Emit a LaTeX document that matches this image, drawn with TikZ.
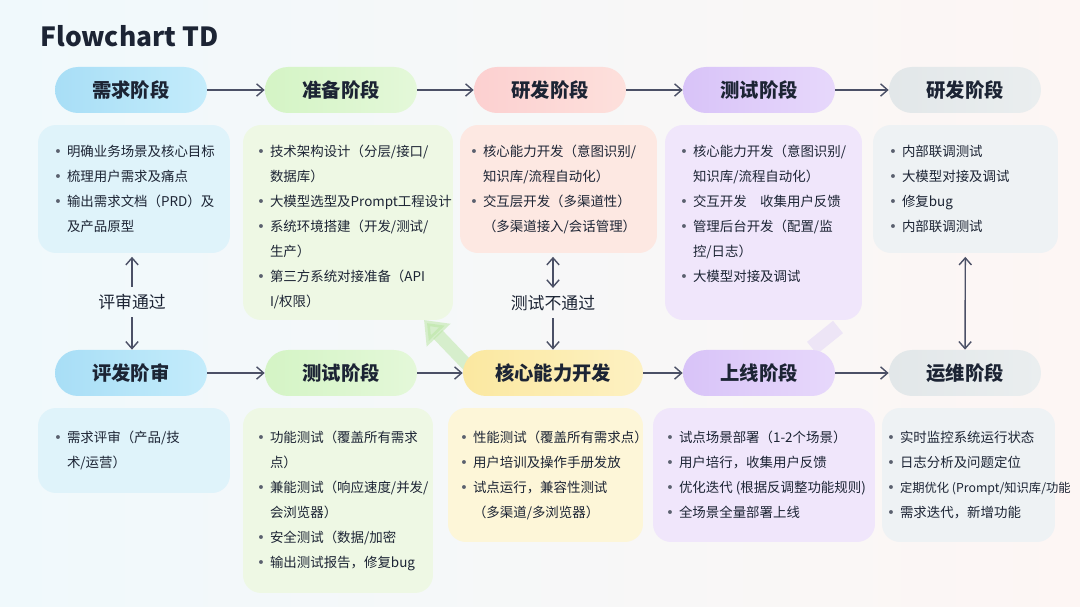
\documentclass[tikz,border=0pt]{standalone}
\usepackage{fontspec}
\setmainfont{Noto Sans CJK SC}
\newfontfamily\dotfont{DejaVu Sans}
\usetikzlibrary{arrows.meta,calc,positioning}
\definecolor{ink}{RGB}{28,36,52}
\definecolor{arrowgray}{RGB}{75,80,102}
\definecolor{dotgray}{RGB}{90,96,110}
\definecolor{bgLeft}{RGB}{240,249,252}
\definecolor{bgRight}{RGB}{253,246,244}
% stage pills
\definecolor{blueA}{RGB}{168,222,246}
\definecolor{blueB}{RGB}{196,236,251}
\definecolor{greenA}{RGB}{212,244,197}
\definecolor{greenB}{RGB}{228,248,217}
\definecolor{pinkA}{RGB}{252,208,208}
\definecolor{pinkB}{RGB}{253,224,220}
\definecolor{purpA}{RGB}{216,195,248}
\definecolor{purpB}{RGB}{231,216,251}
\definecolor{grayA}{RGB}{226,231,233}
\definecolor{grayB}{RGB}{234,238,239}
\definecolor{yellA}{RGB}{251,232,160}
\definecolor{yellB}{RGB}{253,241,194}
% panels
\definecolor{bluePanel}{RGB}{223,243,250}
\definecolor{greenPanel}{RGB}{238,248,228}
\definecolor{pinkPanel}{RGB}{253,232,226}
\definecolor{purpPanel}{RGB}{240,230,251}
\definecolor{grayPanel}{RGB}{238,242,244}
\definecolor{yellPanel}{RGB}{253,246,216}
\definecolor{leafgreen}{RGB}{184,230,160}
\definecolor{lilac}{RGB}{214,196,246}
\newcommand\bul{\makebox[7.4pt][l]{\dotfont\color{dotgray}•}}
\newcommand\cont{\hspace*{7.4pt}}
\tikzset{
  stage/.style={rounded corners=0.46cm,minimum width=3.04cm,minimum height=0.92cm,
    inner sep=0pt,text=ink,font=\bfseries\fontsize{11}{13}\selectfont},
  panel/.style={rounded corners=0.36cm,inner sep=0pt},
  items/.style={anchor=north west,inner sep=0pt,align=left,text=ink,
    font=\fontsize{7.65}{14.2}\selectfont},
  flow/.style={->,draw=arrowgray,line width=0.8pt},
  note/.style={inner sep=4pt,text=ink,font=\fontsize{9.6}{11}\selectfont}
}
\begin{document}
\begin{tikzpicture}[x=0.02cm,y=-0.02cm,>={Straight Barb[length=4pt,width=7pt]}]
  \useasboundingbox (0,0) rectangle (1080,607);
  \shade[left color=bgLeft,right color=bgRight] (0,0) rectangle (1080,607);

  \node[anchor=base west,inner sep=0pt,text=ink,font=\bfseries\fontsize{15}{18}\selectfont]
    (title) at (40,47) {Flowchart TD};

  % faint background arrows
  \coordinate (gtail) at (472,370);
  \coordinate (gtip) at (424,320);
  \draw[line width=7pt,draw=leafgreen,opacity=0.5,-{Triangle[length=12pt,width=18pt]}]
    (gtail) -- (gtip);
  \coordinate (ptail) at (812,348);
  \coordinate (phead) at (838,327);
  \draw[line width=9pt,draw=lilac,opacity=0.35] (ptail) -- (phead);

  % panels, top row
  \node[panel,fill=bluePanel,minimum width=3.84cm,minimum height=2.56cm] (b1) at (134,189) {};
  \node[panel,fill=greenPanel,minimum width=4.2cm,minimum height=3.9cm] (b2) at (348,222.5) {};
  \node[panel,fill=pinkPanel,minimum width=3.94cm,minimum height=2.56cm] (b3) at (558.5,189) {};
  \node[panel,fill=purpPanel,minimum width=3.94cm,minimum height=3.9cm] (b4) at (763.5,222.5) {};
  \node[panel,fill=grayPanel,minimum width=3.7cm,minimum height=2.56cm] (b5) at (965.5,189) {};
  % panels, bottom row
  \node[panel,fill=bluePanel,minimum width=3.84cm,minimum height=1.7cm] (c1) at (134,450.5) {};
  \node[panel,fill=greenPanel,minimum width=3.8cm,minimum height=3.7cm] (c2) at (338,500.5) {};
  \node[panel,fill=yellPanel,minimum width=3.9cm,minimum height=2.68cm] (c3) at (545.5,475) {};
  \node[panel,fill=purpPanel,minimum width=4.44cm,minimum height=2.68cm] (c4) at (764,475) {};
  \node[panel,fill=grayPanel,minimum width=3.46cm,minimum height=2.68cm] (c5) at (968.5,475) {};

  % stages
  \node[stage,left color=blueA,right color=blueB] (p1) at (131,90) {需求阶段};
  \node[stage,left color=greenA,right color=greenB] (p2) at (341,90) {准备阶段};
  \node[stage,left color=pinkA,right color=pinkB] (p3) at (550,90) {研发阶段};
  \node[stage,left color=purpA,right color=purpB] (p4) at (759,90) {测试阶段};
  \node[stage,left color=grayA,right color=grayB] (p5) at (965,90) {研发阶段};
  \node[stage,left color=blueA,right color=blueB] (q1) at (131,373) {评发阶审};
  \node[stage,left color=greenA,right color=greenB] (q2) at (341,373) {测试阶段};
  \node[stage,left color=yellA,right color=yellB,minimum width=3.6cm] (q3) at (553,373) {核心能力开发};
  \node[stage,left color=purpA,right color=purpB] (q4) at (759,373) {上线阶段};
  \node[stage,left color=grayA,right color=grayB] (q5) at (965,373) {运维阶段};

  % panel texts
  \node[items] (t1) at ($(b1.north west)+(16,20)$) {\bul 明确业务场景及核心目标\\
    \bul 梳理用户需求及痛点\\ \bul 输出需求文档（PRD）及\\ \cont 及产品原型};
  \node[items] (t2) at ($(b2.north west)+(14,20)$) {\bul 技术架构设计（分层/接口/\\
    \cont 数据库）\\ \bul 大模型选型及Prompt工程设计\\ \bul 系统环境搭建（开发/测试/\\
    \cont 生产）\\ \bul 第三方系统对接准备（API\\ \cont I/权限）};
  \node[items] (t3) at ($(b3.north west)+(10,20)$) {\bul 核心能力开发（意图识别/\\
    \cont 知识库/流程自动化）\\ \bul 交互层开发（多渠道性）\\ \cont （多渠道接入/会话管理）};
  \node[items] (t4) at ($(b4.north west)+(15,20)$) {\bul 核心能力开发（意图识别/\\
    \cont 知识库/流程自动化）\\ \bul 交互开发　收集用户反馈\\ \bul 管理后台开发（配置/监\\
    \cont 控/日志）\\ \bul 大模型对接及调试};
  \node[items] (t5) at ($(b5.north west)+(16,20)$) {\bul 内部联调测试\\
    \bul 大模型对接及调试\\ \bul 修复bug\\ \bul 内部联调测试};
  \node[items] (u1) at ($(c1.north west)+(16,23)$) {\bul 需求评审（产品/技\\ \cont 术/运营）};
  \node[items] (u2) at ($(c2.north west)+(14,23)$) {\bul 功能测试（覆盖所有需求\\
    \cont 点）\\ \bul 兼能测试（响应速度/并发/\\ \cont 会浏览器）\\ \bul 安全测试（数据/加密\\
    \bul 输出测试报告，修复bug};
  \node[items] (u3) at ($(c3.north west)+(12,23)$) {\bul 性能测试（覆盖所有需求点）\\
    \bul 用户培训及操作手册发放\\ \bul 试点运行，兼容性测试\\ \cont （多渠道/多浏览器）};
  \node[items] (u4) at ($(c4.north west)+(13,23)$) {\bul 试点场景部署（1-2个场景）\\
    \bul 用户培行，收集用户反馈\\ \bul 优化迭代 (根据反调整功能规则)\\ \bul 全场景全量部署上线};
  \node[items] (u5) at ($(c5.north west)+(5,23)$) {\bul 实时监控系统运行状态\\
    \bul 日志分析及问题定位\\ \bul {\fontsize{7}{14.2}\selectfont 定期优化 (Prompt/知识库/功能}\\
    \bul 需求迭代，新增功能};

  % flow
  \draw[flow] (p1) -- (p2);
  \draw[flow] (p2) -- (p3);
  \draw[flow] (p3) -- (p4);
  \draw[flow] (p4) -- (p5);
  \draw[flow] (q1) -- (q2);
  \draw[flow] (q2) -- (q3);
  \draw[flow] (q3) -- (q4);
  \draw[flow] (q4) -- (q5);

  \node[note] (pass) at (132,302) {评审通过};
  \draw[flow,shorten >=2pt] (pass) -- (pass |- b1.south);
  \draw[flow] (pass) -- (pass |- q1.north);
  \node[note] (fail) at (553,303) {测试不通过};
  \draw[flow,<->,shorten >=2pt] (fail) -- (fail |- b3.south);
  \draw[flow] (fail) -- (q3);
  \draw[flow,<->,shorten <=2pt] (b5) -- (q5);
\end{tikzpicture}
\end{document}
